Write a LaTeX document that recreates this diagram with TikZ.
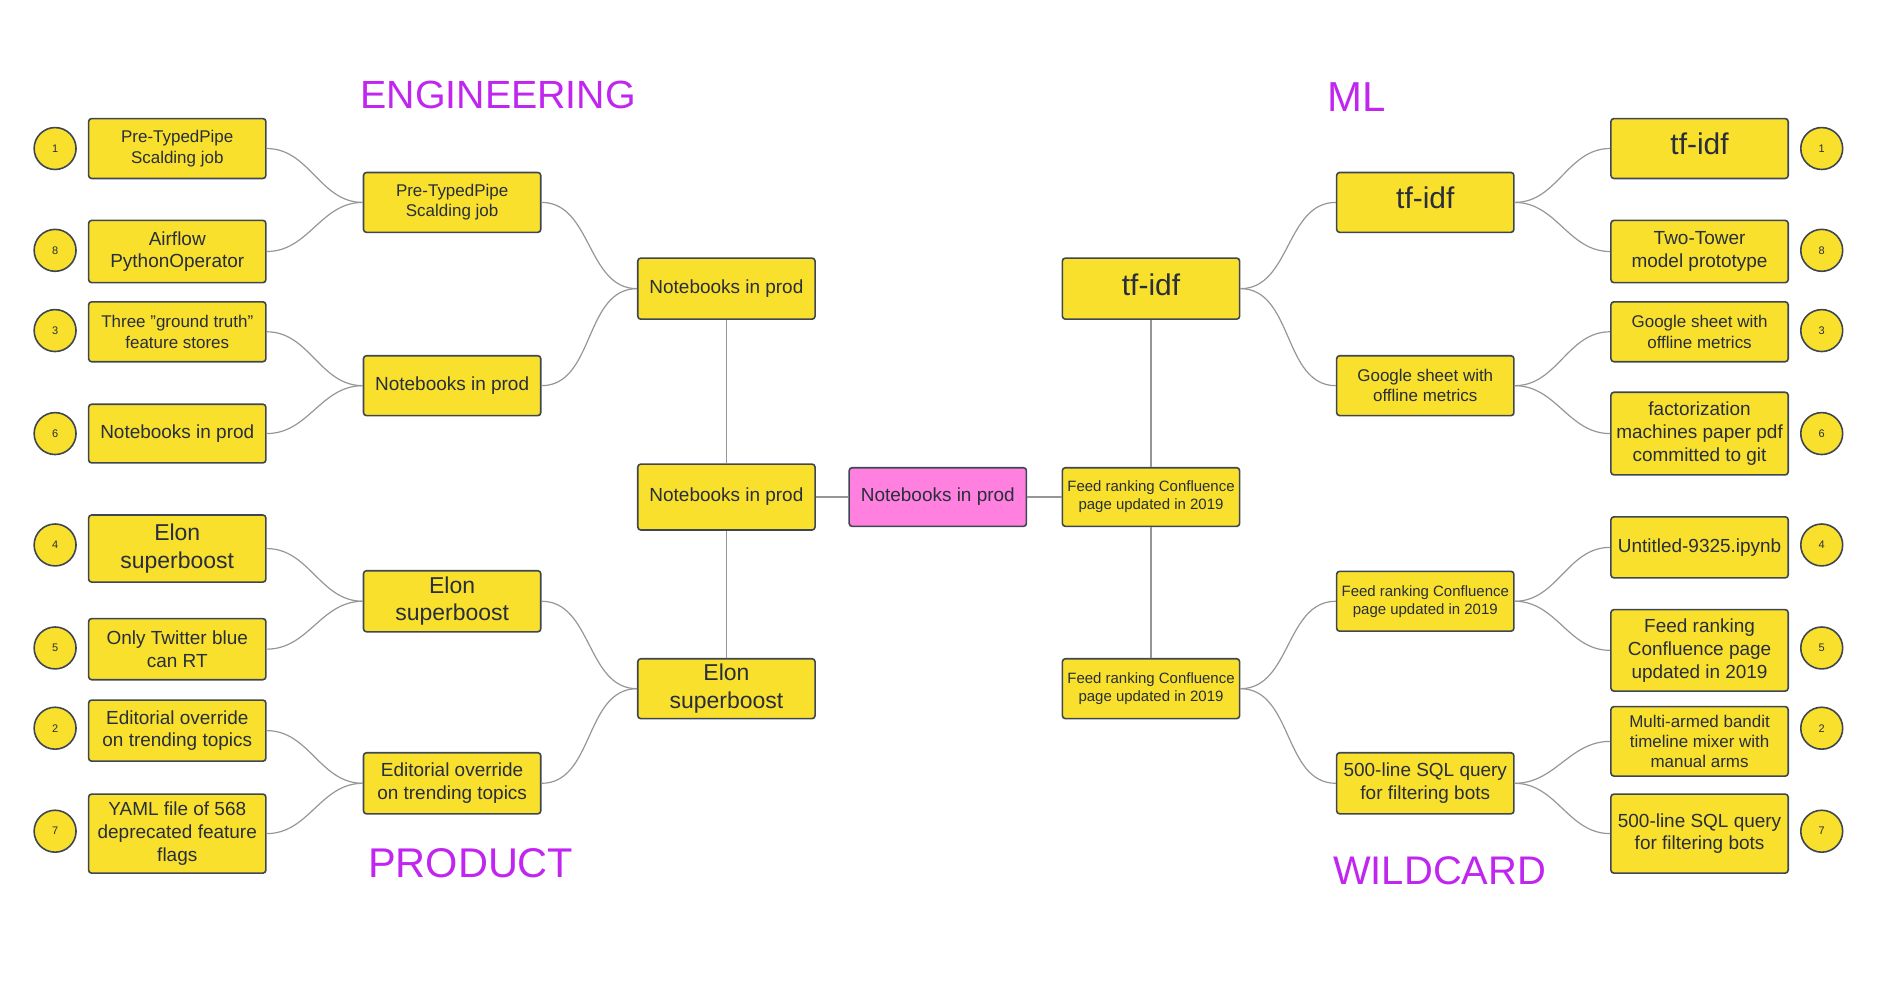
\documentclass[tikz,border=0pt]{standalone}
\usepackage{fontspec}
\setmainfont{Liberation Sans}

\definecolor{boxyellow}{RGB}{249,224,45}
\definecolor{boxpink}{RGB}{255,128,222}
\definecolor{boxline}{RGB}{62,70,82}
\definecolor{ink}{RGB}{40,46,58}
\definecolor{linkgray}{RGB}{150,150,150}
\definecolor{teamviolet}{RGB}{192,38,240}

\tikzset{
  card/.style={draw=boxline, fill=boxyellow, line width=0.8pt, rounded corners=1.5pt,
    minimum width=88.8pt, minimum height=30pt, inner sep=1pt, align=center, text=ink},
  seed/.style={draw=boxline, fill=boxyellow, line width=0.8pt, circle, minimum size=21pt,
    inner sep=0pt, text=ink, font=\fontsize{5.5}{6}\selectfont},
  linkline/.style={draw=linkgray, line width=0.6pt},
  team/.style={text=teamviolet},
  txtXS/.style={font=\fontsize{7.5}{9}\selectfont},
  txtS/.style={font=\fontsize{8.5}{10.2}\selectfont},
  txtM/.style={font=\fontsize{9.5}{11.4}\selectfont},
  txtL/.style={font=\fontsize{11.5}{13.8}\selectfont},
  txtXL/.style={font=\fontsize{15}{18}\selectfont, text depth=4.5pt}
}

\begin{document}
\begin{tikzpicture}[x=0.6pt, y=-0.6pt]

  \useasboundingbox (0,0) rectangle (1568,832);

  %%%%%%%%%%%%%%%%%%%%%%%%%%%%%%
  % Team titles                %
  %%%%%%%%%%%%%%%%%%%%%%%%%%%%%%
  \node[team, font=\fontsize{19.7}{23}\selectfont] (engTitle) at (416,79) {ENGINEERING};
  \node[team, font=\fontsize{21}{25}\selectfont] (mlTitle) at (1133,81) {ML};
  \node[team, font=\fontsize{20.8}{24}\selectfont] (prdTitle) at (393,721) {PRODUCT};
  \node[team, font=\fontsize{20}{24}\selectfont] (wldTitle) at (1202,727) {WILDCARD};

  %%%%%%%%%%%%%%%%%%%%%%%%%%%%%%
  % Seed numbers               %
  %%%%%%%%%%%%%%%%%%%%%%%%%%%%%%
  \node[seed] (seedL1) at (46,124) {1};
  \node[seed] (seedL8) at (46,209) {8};
  \node[seed] (seedL3) at (46,276) {3};
  \node[seed] (seedL6) at (46,362) {6};
  \node[seed] (seedL4) at (46,455) {4};
  \node[seed] (seedL5) at (46,541) {5};
  \node[seed] (seedL2) at (46,608) {2};
  \node[seed] (seedL7) at (46,694) {7};

  \node[seed] (seedR1) at (1521,124) {1};
  \node[seed] (seedR8) at (1521,209) {8};
  \node[seed] (seedR3) at (1521,276) {3};
  \node[seed] (seedR6) at (1521,362) {6};
  \node[seed] (seedR4) at (1521,455) {4};
  \node[seed] (seedR5) at (1521,541) {5};
  \node[seed] (seedR2) at (1521,608) {2};
  \node[seed] (seedR7) at (1521,694) {7};

  %%%%%%%%%%%%%%%%%%%%%%%%%%%%%%
  % Left half: first round     %
  %%%%%%%%%%%%%%%%%%%%%%%%%%%%%%
  \node[card, txtS] (engA1) at (148,124) {Pre-TypedPipe\\Scalding job};
  \node[card, txtM, minimum height=31.2pt] (engA2) at (148,210) {Airflow\\PythonOperator};
  \node[card, txtS] (engB1) at (148,277) {Three "ground truth"\\feature stores};
  \node[card, txtM, minimum height=29.4pt] (engB2) at (148,362) {Notebooks in prod};
  \node[card, txtL, minimum height=33.6pt] (prdC1) at (148,458) {Elon\\superboost};
  \node[card, txtM, minimum height=30.6pt] (prdC2) at (148,542) {Only Twitter blue\\can RT};
  \node[card, txtM, minimum height=30.6pt] (prdD1) at (148,610) {Editorial override\\on trending topics};
  \node[card, txtM, minimum height=39.6pt] (prdD2) at (148,696) {YAML file of 568\\deprecated feature\\flags};

  % quarter finals
  \node[card, txtS] (engA) at (377.5,169) {Pre-TypedPipe\\Scalding job};
  \node[card, txtM] (engB) at (377.5,322) {Notebooks in prod};
  \node[card, txtL, minimum height=30.6pt] (prdC) at (377.5,502) {Elon\\superboost};
  \node[card, txtM, minimum height=30.6pt] (prdD) at (377.5,654) {Editorial override\\on trending topics};

  % semi finals
  \node[card, txtM, minimum height=30.6pt] (engTop) at (606.5,241) {Notebooks in prod};
  \node[card, txtM, minimum height=33pt] (semiL) at (606.5,415) {Notebooks in prod};
  \node[card, txtL] (prdBot) at (606.5,575) {Elon\\superboost};

  %%%%%%%%%%%%%%%%%%%%%%%%%%%%%%
  % Winner                     %
  %%%%%%%%%%%%%%%%%%%%%%%%%%%%%%
  \node[card, fill=boxpink, txtM, minimum height=29.4pt] (champ) at (783,415) {Notebooks in prod};

  %%%%%%%%%%%%%%%%%%%%%%%%%%%%%%
  % Right half: first round    %
  %%%%%%%%%%%%%%%%%%%%%%%%%%%%%%
  \node[card, txtXL] (mlA1) at (1419,124) {tf-idf};
  \node[card, txtM, minimum height=31.2pt] (mlA2) at (1419,210) {Two-Tower\\model prototype};
  \node[card, txtS] (mlB1) at (1419,277) {Google sheet with\\offline metrics};
  \node[card, txtM, minimum height=41.4pt] (mlB2) at (1419,362) {factorization\\machines paper pdf\\committed to git};
  \node[card, txtM, minimum height=30.6pt] (wldC1) at (1419,457) {Untitled-9325.ipynb};
  \node[card, txtM, minimum height=40.8pt] (wldC2) at (1419,543) {Feed ranking\\Confluence page\\updated in 2019};
  \node[card, txtS, minimum height=34.8pt] (wldD1) at (1419,619) {Multi-armed bandit\\timeline mixer with\\manual arms};
  \node[card, txtM, minimum height=39.6pt] (wldD2) at (1419,696) {500-line SQL query\\for filtering bots};

  % quarter finals
  \node[card, txtXL] (mlA) at (1190,169) {tf-idf};
  \node[card, txtS] (mlB) at (1190,322) {Google sheet with\\offline metrics};
  \node[card, txtXS] (wldC) at (1190,502) {Feed ranking Confluence\\page updated in 2019};
  \node[card, txtM, minimum height=30.6pt] (wldD) at (1190,654) {500-line SQL query\\for filtering bots};

  % semi finals
  \node[card, txtXL, minimum height=30.6pt] (mlTop) at (961,241) {tf-idf};
  \node[card, txtXS, minimum height=29.4pt] (semiR) at (961,415) {Feed ranking Confluence\\page updated in 2019};
  \node[card, txtXS] (wldBot) at (961,575) {Feed ranking Confluence\\page updated in 2019};

  %%%%%%%%%%%%%%%%%%%%%%%%%%%%%%
  % Bracket lines              %
  %%%%%%%%%%%%%%%%%%%%%%%%%%%%%%
  % left half
  \draw[linkline] (engA1.east) to[out=0, in=180] (engA.west);
  \draw[linkline] (engA2.east) to[out=0, in=180] (engA.west);
  \draw[linkline] (engB1.east) to[out=0, in=180] (engB.west);
  \draw[linkline] (engB2.east) to[out=0, in=180] (engB.west);
  \draw[linkline] (prdC1.east) to[out=0, in=180] (prdC.west);
  \draw[linkline] (prdC2.east) to[out=0, in=180] (prdC.west);
  \draw[linkline] (prdD1.east) to[out=0, in=180] (prdD.west);
  \draw[linkline] (prdD2.east) to[out=0, in=180] (prdD.west);
  \draw[linkline] (engA.east) to[out=0, in=180] (engTop.west);
  \draw[linkline] (engB.east) to[out=0, in=180] (engTop.west);
  \draw[linkline] (prdC.east) to[out=0, in=180] (prdBot.west);
  \draw[linkline] (prdD.east) to[out=0, in=180] (prdBot.west);
  \draw[linkline] (engTop.south) -- (semiL.north);
  \draw[linkline] (semiL.south) -- (prdBot.north);

  % right half
  \draw[linkline] (mlA.east) to[out=0, in=180] (mlA1.west);
  \draw[linkline] (mlA.east) to[out=0, in=180] (mlA2.west);
  \draw[linkline] (mlB.east) to[out=0, in=180] (mlB1.west);
  \draw[linkline] (mlB.east) to[out=0, in=180] (mlB2.west);
  \draw[linkline] (wldC.east) to[out=0, in=180] (wldC1.west);
  \draw[linkline] (wldC.east) to[out=0, in=180] (wldC2.west);
  \draw[linkline] (wldD.east) to[out=0, in=180] (wldD1.west);
  \draw[linkline] (wldD.east) to[out=0, in=180] (wldD2.west);
  \draw[linkline] (mlTop.east) to[out=0, in=180] (mlA.west);
  \draw[linkline] (mlTop.east) to[out=0, in=180] (mlB.west);
  \draw[linkline] (wldBot.east) to[out=0, in=180] (wldC.west);
  \draw[linkline] (wldBot.east) to[out=0, in=180] (wldD.west);
  \draw[linkline] (mlTop.south) -- (semiR.north);
  \draw[linkline] (semiR.south) -- (wldBot.north);

  % final
  \draw[linkline, line width=0.9pt] (semiL.east) -- (champ.west);
  \draw[linkline] (champ.east) -- (semiR.west);

\end{tikzpicture}
\end{document}
